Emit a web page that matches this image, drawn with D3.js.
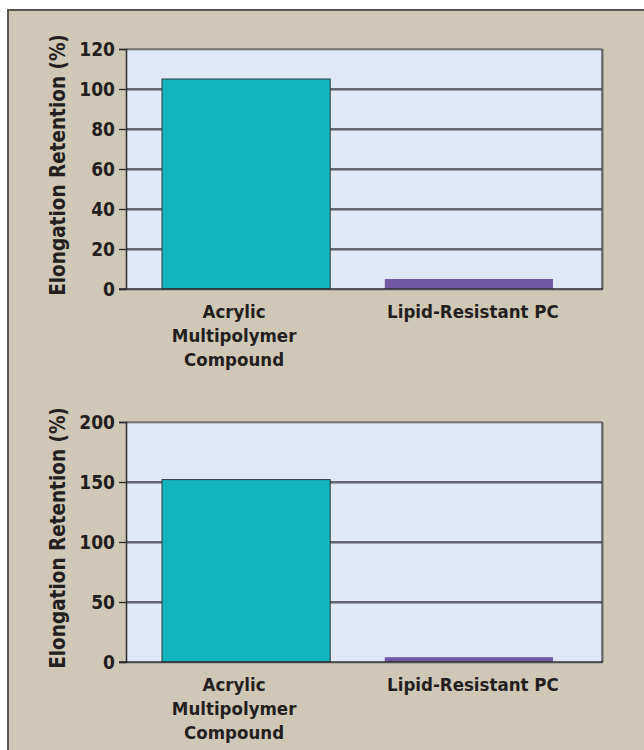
<!DOCTYPE html>
<html><head><meta charset="utf-8">
<script src="https://cdn.jsdelivr.net/npm/d3@7"></script>
<style>
html,body{margin:0;padding:0;background:#fff;}
svg{display:block;}
text{font-family:"DejaVu Sans Condensed","DejaVu Sans",sans-serif;font-weight:700;fill:#231f20;}
</style></head>
<body>
<svg id="c" width="644" height="750"></svg>
<script>
// Data
const categories = ["Acrylic Multipolymer Compound", "Lipid-Resistant PC"];
const categoryLines = [["Acrylic", "Multipolymer", "Compound"], ["Lipid-Resistant PC"]];
const valuesTop = [105, 5];
const valuesBottom = [152, 4];
const ticksTop = [0, 20, 40, 60, 80, 100, 120];
const ticksBottom = [0, 50, 100, 150, 200];
const yTitle = "Elongation Retention (%)";
const barColors = ["#12b4be", "#7259a4"];

const FONT = '"DejaVu Sans Condensed","DejaVu Sans",sans-serif';
const svg = d3.select("#c");
// panel background
svg.append("rect").attr("x", 8).attr("y", 10).attr("width", 660).attr("height", 760)
  .attr("fill", "#d0c8b7").attr("stroke", "#5b5650").attr("stroke-width", 2);

function drawChart(cfg) {
  const g = svg.append("g");
  const L = 126, R = 602, T = cfg.top, B = cfg.bottom;
  const y = d3.scaleLinear().domain([0, cfg.max]).range([B, T]);
  const x = d3.scaleBand().domain(categories).range([162, 553]).paddingInner(0.245).paddingOuter(0);

  // plot background
  g.append("rect").attr("x", L).attr("y", T).attr("width", R - L).attr("height", B - T).attr("fill", "#e1e8f5");

  // gridlines (with light shadow)
  cfg.ticks.forEach(t => {
    if (t === 0 || t === cfg.max) return;
    g.append("line").attr("x1", L).attr("x2", R).attr("y1", y(t) + 1.5).attr("y2", y(t) + 1.5)
      .attr("stroke", "#9aa0ad").attr("stroke-width", 1);
    g.append("line").attr("x1", L).attr("x2", R).attr("y1", y(t)).attr("y2", y(t))
      .attr("stroke", "#3d3d40").attr("stroke-width", 1.3);
  });

  // frame top & right (shadowed)
  g.append("line").attr("x1", L).attr("x2", R + 1).attr("y1", T + 1).attr("y2", T + 1).attr("stroke", "#9a9a9a").attr("stroke-width", 1);
  g.append("line").attr("x1", R + 1).attr("x2", R + 1).attr("y1", T).attr("y2", B).attr("stroke", "#8a8a8a").attr("stroke-width", 1.5);
  g.append("line").attr("x1", L).attr("x2", R).attr("y1", T).attr("y2", T).attr("stroke", "#3d3d40").attr("stroke-width", 1.2);
  g.append("line").attr("x1", R).attr("x2", R).attr("y1", T).attr("y2", B).attr("stroke", "#3d3d40").attr("stroke-width", 1.2);

  // bars
  g.selectAll("rect.bar").data(cfg.values).enter().append("rect").attr("class", "bar")
    .attr("x", (d, i) => x(categories[i]))
    .attr("y", d => y(d))
    .attr("width", x.bandwidth())
    .attr("height", d => B - y(d))
    .attr("fill", (d, i) => barColors[i])
    .attr("stroke", (d, i) => i === 0 ? "#2f3a3c" : "none")
    .attr("stroke-width", 1);

  // y axis
  const ax = g.append("g").attr("transform", `translate(${L},0)`)
    .call(d3.axisLeft(y).tickValues(cfg.ticks).tickSize(7).tickPadding(4).tickFormat(d3.format("d")));
  ax.select(".domain").attr("stroke", "#2b2b2e").attr("stroke-width", 1.5);
  ax.selectAll(".tick line").attr("stroke", "#2b2b2e").attr("stroke-width", 1.3);
  ax.selectAll(".tick text").attr("font-size", 19).attr("fill", "#231f20")
    .attr("font-family", FONT).attr("font-weight", 700);

  // bottom axis line
  g.append("line").attr("x1", L).attr("x2", R + 1).attr("y1", B + 1.2).attr("y2", B + 1.2).attr("stroke", "#9a9a9a").attr("stroke-width", 1);
  g.append("line").attr("x1", L - 7).attr("x2", R + 1).attr("y1", B).attr("y2", B).attr("stroke", "#2b2b2e").attr("stroke-width", 1.5);

  // category labels
  categories.forEach((c, i) => {
    const cx = x(c) + x.bandwidth() / 2 + (i === 0 ? -12 : 4);
    const t = g.append("text").attr("text-anchor", "middle").attr("font-size", 18.5);
    categoryLines[i].forEach((ln, j) => {
      t.append("tspan").attr("x", cx).attr("y", B + 29 + j * 24).text(ln);
    });
  });

  // y title
  g.append("text").attr("text-anchor", "middle").attr("font-size", 20.5)
    .attr("transform", `translate(65,${(T + B) / 2 - 4}) rotate(-90)`)
    .text(yTitle);
}

drawChart({top: 49, bottom: 289, max: 120, ticks: ticksTop, values: valuesTop});
drawChart({top: 422, bottom: 662, max: 200, ticks: ticksBottom, values: valuesBottom});
</script>
</body></html>
